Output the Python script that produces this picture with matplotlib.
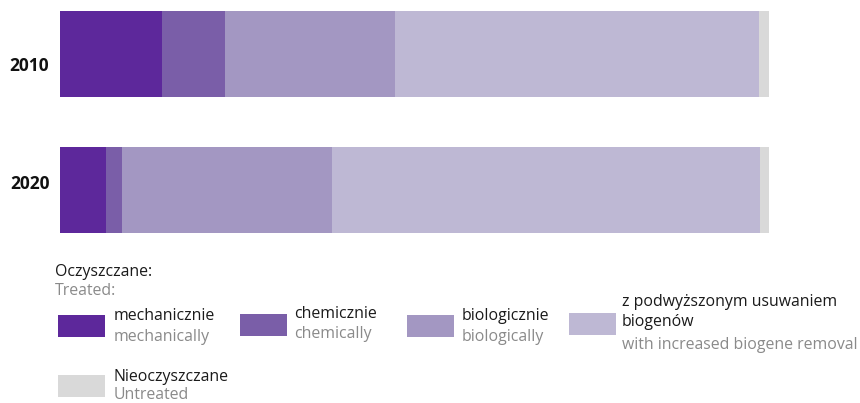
import matplotlib
matplotlib.use("Agg")
import matplotlib.pyplot as plt
from matplotlib.patches import Rectangle

plt.rcParams['font.family'] = ['Open Sans', 'DejaVu Sans']

years = ["2010", "2020"]
series_pl = ["mechanicznie", "chemicznie", "biologicznie",
             "z podwyższonym usuwaniem\nbiogenów", "Nieoczyszczane"]
series_en = ["mechanically", "chemically", "biologically",
             "with increased biogene removal", "Untreated"]
colors = ["#5D289B", "#7A5EA8", "#A397C2", "#BEB8D4", "#D9D9D9"]
values_2010 = [14.4, 8.9, 24.0, 51.3, 1.4]
values_2020 = [6.5, 2.3, 29.5, 60.4, 1.3]
values = [values_2010, values_2020]

W, H = 860, 403
fig = plt.figure(figsize=(W / 100, H / 100), dpi=100)

def fx(px):
    return px / W

def fy(py):
    return 1 - py / H

# bar axes: x 60..769, y 11..233
ax = fig.add_axes([fx(60), fy(233), fx(769) - fx(60), (233 - 11) / H])
bh = 0.632
for yi, vals in enumerate(values):
    left = 0
    for v, c in zip(vals, colors):
        ax.barh(yi, v, left=left, height=bh, color=c, edgecolor='none')
        left += v
ax.set_xlim(0, 100)
ax.set_ylim(1 + bh / 2, -bh / 2)
ax.set_yticks([])
ax.set_xticks([])
for s in ax.spines.values():
    s.set_visible(False)

# year labels (slightly offset vertically as in the original)
label_offsets = [0.09, -0.045]
for yi, (yr, off) in enumerate(zip(years, label_offsets)):
    ax.text(-1.5, yi + off, yr, ha='right', va='center', fontweight='bold',
            fontsize=12.5, color='#111111')

black = '#1a1a1a'
gray = '#8a8a8a'
fs = 11.4

fig.text(fx(55), fy(272), "Oczyszczane:", fontsize=fs, color=black, va='center')
fig.text(fx(55), fy(291), "Treated:", fontsize=fs, color=gray, va='center')

# legend layout: (patch_x, patch_y_top, text_x, pl_y, en_y)
layout = [
    (58, 315, 114, 316, 337),
    (240, 314, 294, 314, 334),
    (407, 315, 462, 316, 337),
    (569, 313, 622, 312, 345),
    (58, 375, 114, 377, 395),
]
for (px, py, tx, ply, eny), c, pl, en in zip(layout, colors, series_pl, series_en):
    fig.add_artist(Rectangle((fx(px), fy(py + 22)), 47 / W, 22 / H,
                             transform=fig.transFigure, color=c, lw=0))
    fig.text(fx(tx), fy(ply), pl, fontsize=fs, color=black, va='center',
             linespacing=1.3)
    fig.text(fx(tx), fy(eny), en, fontsize=fs, color=gray, va='center')

fig.savefig("out.png", dpi=100)
